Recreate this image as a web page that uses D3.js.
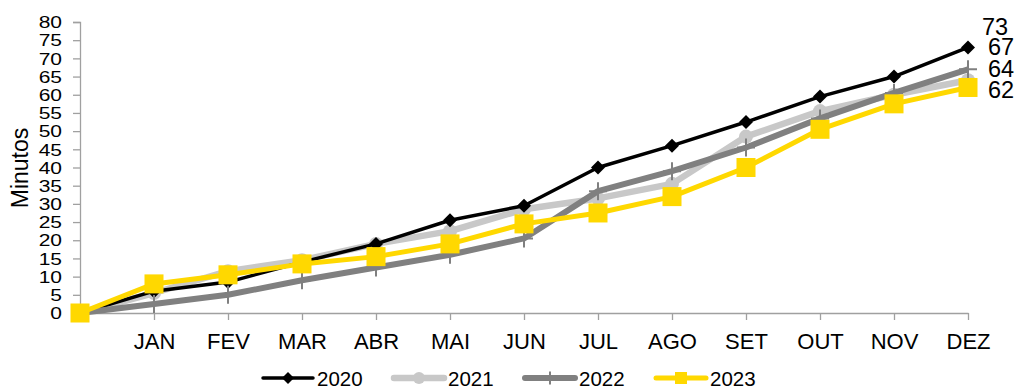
<!DOCTYPE html>
<html>
<head>
<meta charset="utf-8">
<script src="https://cdn.jsdelivr.net/npm/d3@7"></script>
<style>
  html, body { margin: 0; padding: 0; background: #fff; }
  svg { display: block; font-family: "Liberation Sans", Arial, sans-serif; }
</style>
</head>
<body>
<svg id="chart" width="1016" height="387"></svg>
<script>
// Month categories (the first slot is the unlabeled starting point at zero)
const categories = ["", "JAN", "FEV", "MAR", "ABR", "MAI", "JUN", "JUL", "AGO", "SET", "OUT", "NOV", "DEZ"];

// Accumulated minutes per year
const values2020 = [0, 6, 8.5, 14, 19, 25.5, 29.5, 40, 46, 52.5, 59.5, 65, 73];
const values2021 = [0, 5.5, 11.5, 14.5, 19, 22.5, 28.5, 31.5, 35.5, 48.5, 55.5, 60, 64];
const values2022 = [0, 2.5, 5, 9, 12.5, 16, 20.5, 33.5, 39, 45.5, 53.5, 60.5, 67];
const values2023 = [0, 8, 10.5, 13.5, 15.5, 19, 24.5, 27.5, 32, 40, 50.5, 57.5, 62];

const yTicks = [0, 5, 10, 15, 20, 25, 30, 35, 40, 45, 50, 55, 60, 65, 70, 75, 80];
const yTitle = "Minutos";

const series = [
  { name: "2020", values: values2020, color: "#000000", width: 3.5, marker: "diamond", labelDx: 14, labelDy: -12.5 },
  { name: "2021", values: values2021, color: "#c8c8c8", width: 6.5, marker: "circle",  labelDx: 20, labelDy: -3 },
  { name: "2022", values: values2022, color: "#808080", width: 6,   marker: "plus",    labelDx: 20, labelDy: -14 },
  { name: "2023", values: values2023, color: "#ffd800", width: 5,   marker: "square",  labelDx: 20, labelDy: 11 }
];
// stacking order of the lines (bottom to top)
const drawOrder = ["2021", "2020", "2022", "2023"];

const svg = d3.select("#chart");
const axisColor = "#a0a0a0";

const x = d3.scalePoint().domain(d3.range(categories.length)).range([80, 968]);
const y = d3.scaleLinear().domain([0, 80]).range([313, 22]);

// Y axis
const yAxis = svg.append("g").attr("transform", "translate(80,0)")
  .call(d3.axisLeft(y).tickValues(yTicks).tickSize(7).tickPadding(0).tickFormat(d3.format("d")));
yAxis.select(".domain").attr("stroke", axisColor).attr("stroke-width", 1.3);
yAxis.selectAll(".tick line").attr("stroke", axisColor).attr("stroke-width", 1.3);
yAxis.selectAll(".tick text")
  .attr("fill", "#000").attr("font-size", 21).attr("x", 0).attr("dy", null)
  .attr("dominant-baseline", "central")
  .attr("text-anchor", "end")
  .attr("transform", "translate(-18,0) scale(1,0.8)");

// X axis
const xAxis = svg.append("g").attr("transform", "translate(0,313)")
  .call(d3.axisBottom(x).tickSize(7).tickSizeOuter(0).tickPadding(0).tickFormat(i => categories[i]));
xAxis.select(".domain").attr("stroke", axisColor).attr("stroke-width", 1.3);
xAxis.selectAll(".tick line").attr("stroke", axisColor).attr("stroke-width", 1.3)
  .attr("display", d => d === 0 ? "none" : null);
xAxis.selectAll(".tick text").attr("fill", "#000").attr("font-size", 22).attr("y", 36).attr("dy", null);

// Y title
svg.append("text")
  .attr("transform", "translate(28,168) rotate(-90)")
  .attr("text-anchor", "middle")
  .attr("font-size", 23)
  .text(yTitle);

function drawMarker(g, type, color, cx, cy, size) {
  if (type === "diamond") {
    const h = size / 2;
    g.append("path").attr("d", `M${cx},${cy - h}L${cx + h},${cy}L${cx},${cy + h}L${cx - h},${cy}Z`).attr("fill", color);
  } else if (type === "circle") {
    g.append("circle").attr("cx", cx).attr("cy", cy).attr("r", size / 2).attr("fill", color);
  } else if (type === "square") {
    g.append("rect").attr("x", cx - size / 2).attr("y", cy - size / 2).attr("width", size).attr("height", size).attr("fill", color);
  } else if (type === "plus") {
    const h = size / 2;
    g.append("path").attr("d", `M${cx},${cy - h}V${cy + h}M${cx - h},${cy}H${cx + h}`)
      .attr("stroke", color).attr("stroke-width", 2).attr("fill", "none");
  }
}

const markerSize = { diamond: 14, circle: 14, square: 19, plus: 18 };
const line = d3.line().x((d, i) => x(i)).y(d => y(d));

drawOrder.forEach(name => {
  const s = series.find(o => o.name === name);
  const g = svg.append("g");
  g.append("path").datum(s.values).attr("d", line)
    .attr("fill", "none").attr("stroke", s.color).attr("stroke-width", s.width)
    .attr("stroke-linejoin", "round");
  s.values.forEach((v, i) => drawMarker(g, s.marker, s.color, x(i), y(v), markerSize[s.marker]));
});

// End-of-year value labels
series.forEach(s => {
  const last = s.values.length - 1;
  svg.append("text")
    .attr("x", x(last) + s.labelDx)
    .attr("y", y(s.values[last]) + s.labelDy)
    .attr("font-size", 23.5)
    .text(d3.format("d")(s.values[last]));
});

// Legend
const legend = svg.append("g").attr("transform", "translate(263,378)");
series.forEach((s, i) => {
  const g = legend.append("g").attr("transform", `translate(${i * 131},0)`);
  g.append("line").attr("x1", 0).attr("x2", 50).attr("y1", 0).attr("y2", 0)
    .attr("stroke", s.color).attr("stroke-width", s.width).attr("stroke-linecap", "round");
  drawMarker(g, s.marker, s.color, 25, 0, s.marker === "plus" ? 13 : 12);
  g.append("text").attr("x", 54).attr("y", 0).attr("dominant-baseline", "central")
    .attr("font-size", 20.5).text(s.name);
});
</script>
</body>
</html>
